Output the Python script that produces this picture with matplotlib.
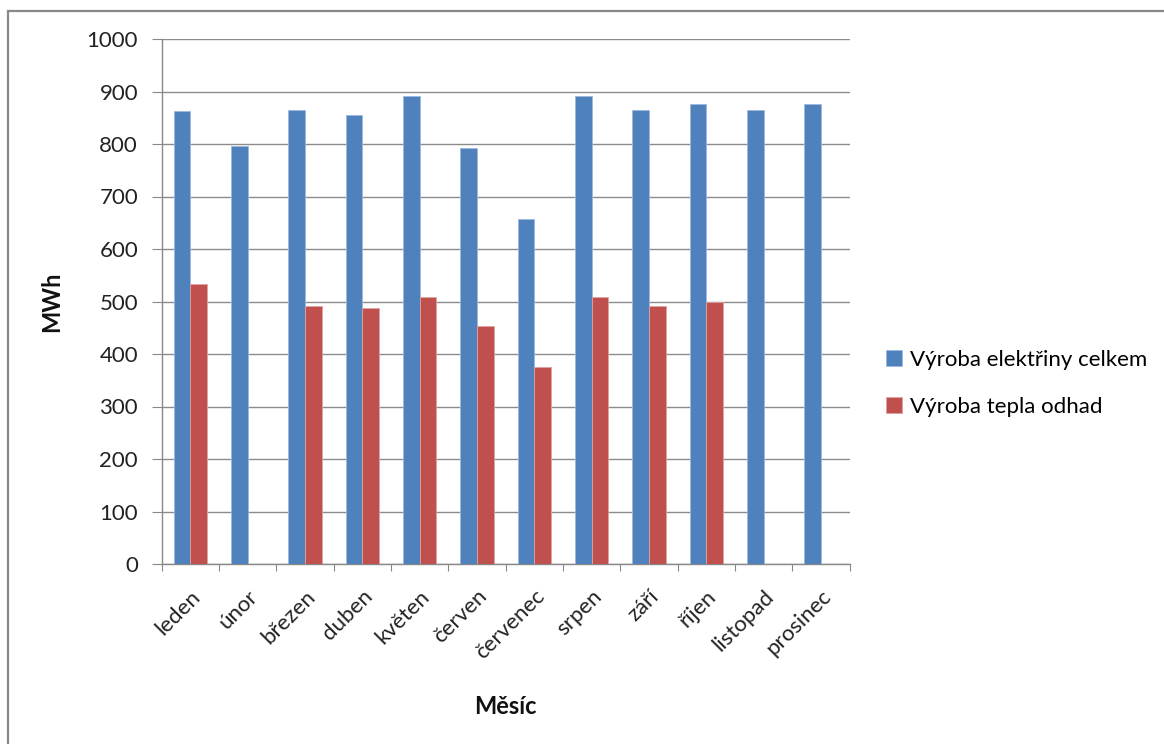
import matplotlib
matplotlib.use("Agg")
import matplotlib.pyplot as plt
import numpy as np
from matplotlib.patches import Rectangle

plt.rcParams['font.family'] = ['Lato', 'DejaVu Sans']

months = ["leden", "únor", "březen", "duben", "květen", "červen",
          "červenec", "srpen", "září", "říjen", "listopad", "prosinec"]
electricity = [862, 796, 864, 855, 892, 793, 657, 892, 864, 877, 864, 877]
heat = [533, 0, 492, 487, 508, 453, 376, 508, 492, 500, 0, 0]
series_names = ["Výroba elektřiny celkem", "Výroba tepla odhad"]
yticks = [0, 100, 200, 300, 400, 500, 600, 700, 800, 900, 1000]

W, H = 1164, 744
fig = plt.figure(figsize=(W / 100, H / 100), dpi=100)

# outer chart frame (runs off the right and bottom edges)
fig.patches.append(Rectangle((8 / W, -0.2), 1.2, 1.2 - 11 / H, transform=fig.transFigure,
                             fill=False, edgecolor="#888888", linewidth=1.6))

ax = fig.add_axes([161.7 / W, 1 - 564 / H, 688 / W, 525 / H])

x = np.arange(len(months))
bw = 0.29
ax.bar(x - bw / 2 + 0.5, electricity, width=bw, color="#4F81BD",
       edgecolor="#9DB9DE", linewidth=0.6, label=series_names[0], zorder=3)
heat_plot = [v if v > 0 else np.nan for v in heat]
ax.bar(x + bw / 2 + 0.5, heat_plot, width=bw, color="#C0504D",
       edgecolor="#E0A3A1", linewidth=0.6, label=series_names[1], zorder=3)

ax.set_xlim(0, len(months))
ax.set_ylim(0, 1000)
ax.set_yticks(yticks)
ax.set_yticklabels([str(v) for v in yticks], fontsize=16, color="#222222")
ax.set_xticks(np.arange(len(months) + 1))
ax.set_xticklabels([])
ax.set_xticks(x + 0.5, minor=True)
ax.set_xticklabels(months, minor=True, rotation=45, ha="right", va="top",
                   rotation_mode="anchor", fontsize=16, color="#222222")
ax.tick_params(axis="x", which="minor", length=0, pad=16)
ax.tick_params(axis="x", which="major", length=5, color="#888888")
ax.tick_params(axis="y", length=7, color="#888888", pad=10)

ax.grid(axis="y", color="#8c8c8c", linewidth=1.0, zorder=0)
ax.set_axisbelow(True)
for s in ["top", "right"]:
    ax.spines[s].set_visible(False)
for s in ["left", "bottom"]:
    ax.spines[s].set_color("#888888")
    ax.spines[s].set_linewidth(1.0)

fig.text(505 / W, 1 - 707 / H, "Měsíc", ha="center", va="center",
         fontsize=17, fontweight="bold", color="#111111")
fig.text(52 / W, 1 - 302 / H, "MWh", ha="center", va="center", rotation=90,
         fontsize=17, fontweight="bold", color="#111111")

fig.legend(loc="upper left", bbox_to_anchor=(866 / W, 1 - 330 / H), frameon=False,
           fontsize=16, handlelength=0.7, handleheight=0.7, handletextpad=0.4,
           labelspacing=1.2)

fig.savefig("out.png", dpi=100)
